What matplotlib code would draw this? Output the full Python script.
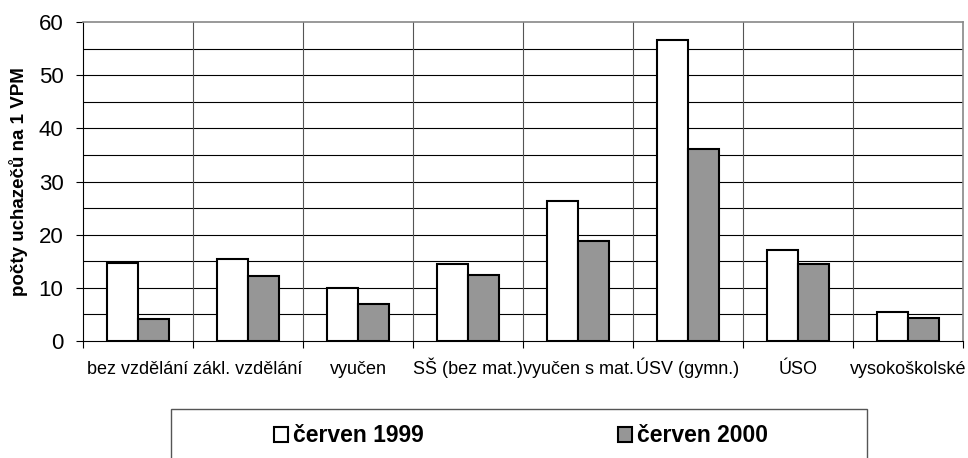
import matplotlib
matplotlib.use("Agg")
import matplotlib.pyplot as plt
import numpy as np
from matplotlib.patches import Rectangle

plt.rcParams['font.family'] = ['Liberation Sans', 'DejaVu Sans']

categories = ["bez vzdělání", "zákl. vzdělání", "vyučen", "SŠ (bez mat.)",
              "vyučen s mat.", "ÚSV (gymn.)", "ÚSO", "vysokoškolské"]
cerven_1999 = [14.7, 15.5, 9.9, 14.5, 26.3, 56.6, 17.1, 5.5]
cerven_2000 = [4.1, 12.2, 7.0, 12.5, 18.8, 36.1, 14.5, 4.4]
series_labels = ["červen 1999", "červen 2000"]
y_ticks = [0, 10, 20, 30, 40, 50, 60]

fig = plt.figure(figsize=(9.68, 4.58), dpi=100)
ax = fig.add_axes([83/968, (458-341)/458, (963-83)/968, (341-22)/458])

x = np.arange(len(categories))
w = 0.285
b1 = ax.bar(x - w/2, cerven_1999, w, color='white', edgecolor='black', linewidth=1.5,
            label=series_labels[0], zorder=3)
b2 = ax.bar(x + w/2, cerven_2000, w, color='#969696', edgecolor='black', linewidth=1.5,
            label=series_labels[1], zorder=3)

ax.set_xlim(-0.5, len(categories) - 0.5)
ax.set_ylim(0, 60)

# horizontal grid every 5
for yv in np.arange(5, 60, 5):
    ax.axhline(yv, color='black', lw=0.8, zorder=1)
# vertical grid at category boundaries
for xv in np.arange(0.5, len(categories) - 0.5, 1):
    ax.axvline(xv, color='#555555', lw=0.8, zorder=1)

ax.set_yticks(y_ticks)
ax.set_yticklabels([str(t) for t in y_ticks], fontsize=16)
ax.set_xticks(x)
ax.set_xticklabels(categories, fontsize=13)
for lbl in ax.get_xticklabels():
    lbl.set_verticalalignment('baseline')
ax.tick_params(axis='x', length=0, pad=24)
ax.set_xticks(np.arange(-0.5, len(categories), 1), minor=True)
ax.tick_params(axis='x', which='minor', length=5, direction='out', color='black', width=0.8)
ax.tick_params(axis='y', length=5, direction='out', width=0.8, pad=9)

for s in ['top', 'right']:
    ax.spines[s].set_color('#888888')
    ax.spines[s].set_linewidth(1.2)
for s in ['left', 'bottom']:
    ax.spines[s].set_color('black')
    ax.spines[s].set_linewidth(0.8)

ax.set_ylabel("počty uchazečů na 1 VPM", fontsize=13.5, fontweight='bold', labelpad=8)

# legend box
fig.patches.append(Rectangle((171/968, -0.05), (867-171)/968, (458-409)/458 + 0.05,
                             transform=fig.transFigure, facecolor='white',
                             edgecolor='#555555', lw=1.0))
fig.legend(handles=[b1, b2], labels=series_labels, loc='center',
           bbox_to_anchor=(521/968, 1 - 436/458), ncol=2, frameon=False,
           prop={'weight': 'bold', 'size': 16.5}, handlelength=0.6, handleheight=0.6,
           handletextpad=0.2, columnspacing=8.5)

fig.savefig("out.png", dpi=100)
